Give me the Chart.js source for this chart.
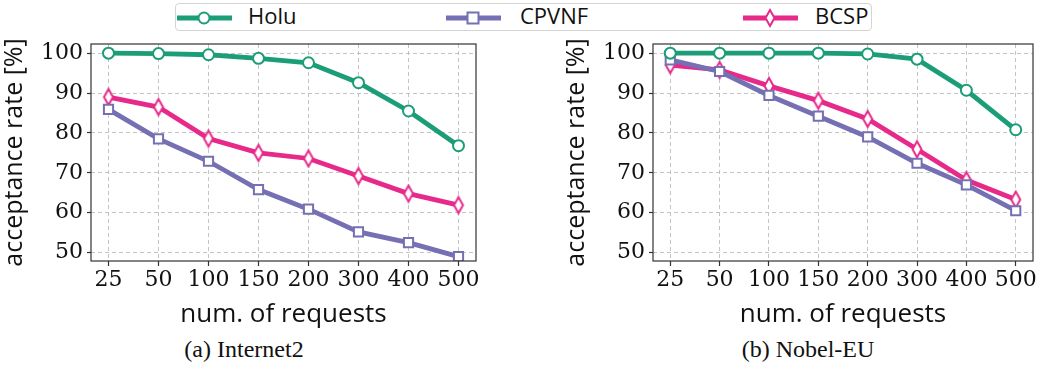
<!DOCTYPE html>
<html>
<head>
<meta charset="utf-8">
<script src="https://cdn.jsdelivr.net/npm/chart.js@4/dist/chart.umd.min.js"></script>
<style>
  html, body { margin: 0; padding: 0; background: #fff; }
  #page { position: relative; width: 1045px; height: 379px; overflow: hidden; }
  .chartbox { position: absolute; top: 0; height: 330px; }
  #legend {
    position: absolute; left: 175px; top: 3px; width: 697px; height: 28px;
    border: 1px solid #d4d4d4; border-radius: 4px; box-sizing: border-box;
    font-family: "Open Sans", sans-serif; font-size: 22px; color: #111;
  }
  .item { position: absolute; top: 0; height: 28px; line-height: 27px; white-space: nowrap; }
  .item svg { position: absolute; left: 0; top: 4px; }
  .item span { position: absolute; top: -2px; }
  .caption {
    position: absolute; top: 336px; font-family: "Liberation Serif", serif; font-size: 24px; color: #111;
    transform: translateX(-50%); white-space: nowrap;
  }
</style>
</head>
<body>
<div id="page">
  <div id="legend">
    <div class="item" style="left:0px">
      <svg width="58" height="20"><line x1="1" y1="10" x2="56" y2="10" stroke="#1b9e77" stroke-width="5"/><circle cx="28" cy="10" r="5.5" fill="#fff" stroke="#1b9e77" stroke-width="2"/></svg>
      <span style="left:72px">Holu</span>
    </div>
    <div class="item" style="left:269px">
      <svg width="58" height="20"><line x1="1" y1="10" x2="56" y2="10" stroke="#7570b3" stroke-width="5"/><rect x="22.5" y="4.5" width="11" height="11" fill="#fff" stroke="#7570b3" stroke-width="2"/></svg>
      <span style="left:75px">CPVNF</span>
    </div>
    <div class="item" style="left:566px">
      <svg width="58" height="22"><line x1="1" y1="10" x2="56" y2="10" stroke="#e7298a" stroke-width="5"/><polygon points="28,2 32.5,10 28,18 23.5,10" fill="#fff" stroke="#e7298a" stroke-width="2"/></svg>
      <span style="left:73px">BCSP</span>
    </div>
  </div>
  <div class="chartbox" style="left:0px;width:520px"><canvas id="c1"></canvas></div>
  <div class="chartbox" style="left:562px;width:483px"><canvas id="c2"></canvas></div>
  <div class="caption" style="left:244px">(a) Internet2</div>
  <div class="caption" style="left:808px">(b) Nobel-EU</div>
</div>
<script>
// request counts on the x axis
const requests = ['25', '50', '100', '150', '200', '300', '400', '500'];
const yTicks = [50, 60, 70, 80, 90, 100];

// Internet2 acceptance rates [%]
const internet2Holu  = [100, 99.9, 99.6, 98.7, 97.6, 92.6, 85.5, 76.8];
const internet2Cpvnf = [85.9, 78.5, 72.9, 65.8, 60.9, 55.2, 52.5, 49.0];
const internet2Bcsp  = [89.0, 86.5, 78.6, 75.0, 73.6, 69.2, 64.8, 61.9];

// Nobel-EU acceptance rates [%]
const nobelHolu  = [100, 100, 100, 100, 99.8, 98.5, 90.7, 80.8];
const nobelCpvnf = [98.3, 95.4, 89.4, 84.2, 79.0, 72.4, 67.0, 60.5];
const nobelBcsp  = [97.0, 95.8, 91.8, 88.1, 83.5, 75.9, 68.2, 63.3];

const GREEN = '#1b9e77', PURPLE = '#7570b3', PINK = '#e7298a';

// slim diamond marker (matplotlib "d" style)
function thinDiamond(color) {
  const c = document.createElement('canvas');
  c.width = 14; c.height = 20;
  const g = c.getContext('2d');
  g.beginPath();
  g.moveTo(7, 2); g.lineTo(11.5, 10); g.lineTo(7, 18); g.lineTo(2.5, 10); g.closePath();
  g.fillStyle = '#fff'; g.fill();
  g.lineWidth = 2; g.strokeStyle = color; g.stroke();
  return c;
}

function series(values, color, style, radius) {
  return {
    data: values.map((v, i) => ({ x: i, y: v })),
    borderColor: color,
    backgroundColor: '#fff',
    borderWidth: 4.8,
    pointStyle: style,
    pointRadius: radius,
    pointBorderWidth: 2,
    pointBorderColor: color,
    pointBackgroundColor: '#fff',
    tension: 0
  };
}

// box around the plot area
const frame = {
  id: 'frame',
  afterDraw(chart) {
    const a = chart.chartArea, g = chart.ctx;
    g.save();
    g.strokeStyle = '#333';
    g.lineWidth = 1.2;
    g.strokeRect(a.left, a.top, a.right - a.left, a.bottom - a.top);
    g.restore();
  }
};

function makeChart(id, holu, cpvnf, bcsp, yAxisWidth, rightPad) {
  const serif = { family: 'DejaVu Serif', size: 22 };
  const sans = { family: 'Open Sans', size: 26 };
  const gridOpts = (len) => ({
    color: '#bdbdbd', lineWidth: 0.9,
    tickLength: len, tickColor: '#333', tickWidth: 1.2, tickBorderDash: []
  });
  return new Chart(document.getElementById(id), {
    type: 'line',
    data: {
      datasets: [
        series(holu, GREEN, 'circle', 5.5),
        series(cpvnf, PURPLE, 'rect', 6.5),
        series(bcsp, PINK, thinDiamond(PINK), 7)
      ]
    },
    options: {
      responsive: true,
      maintainAspectRatio: false,
      animation: false,
      layout: { padding: { top: 44, right: rightPad, left: 0, bottom: 0 } },
      plugins: { legend: { display: false }, tooltip: { enabled: false } },
      scales: {
        x: {
          type: 'linear',
          min: -0.35, max: 7.35,
          afterBuildTicks(s) { s.ticks = requests.map((_, i) => ({ value: i })); },
          afterFit(s) { s.height = 69; },
          ticks: {
            callback: (v) => requests[v],
            font: serif, color: '#111', padding: 1, maxRotation: 0, autoSkip: false
          },
          grid: gridOpts(5),
          border: { display: false, dash: [4, 3] },
          title: { display: true, text: 'num. of requests', font: sans, color: '#111', padding: { top: 0, bottom: 0 } }
        },
        y: {
          min: 47.9, max: 102.3,
          afterBuildTicks(s) { s.ticks = yTicks.map(v => ({ value: v })); },
          afterFit(s) { s.width = yAxisWidth; },
          ticks: { font: serif, color: '#111', padding: 4 },
          grid: gridOpts(4),
          border: { display: false, dash: [4, 3] },
          title: { display: true, text: 'acceptance rate [%]', font: { family: 'Open Sans', size: 25 }, color: '#111', padding: { top: 0, bottom: 0 } }
        }
      }
    },
    plugins: [frame]
  });
}

makeChart('c1', internet2Holu, internet2Cpvnf, internet2Bcsp, 91, 44);
makeChart('c2', nobelHolu, nobelCpvnf, nobelBcsp, 91, 12);
</script>
</body>
</html>
